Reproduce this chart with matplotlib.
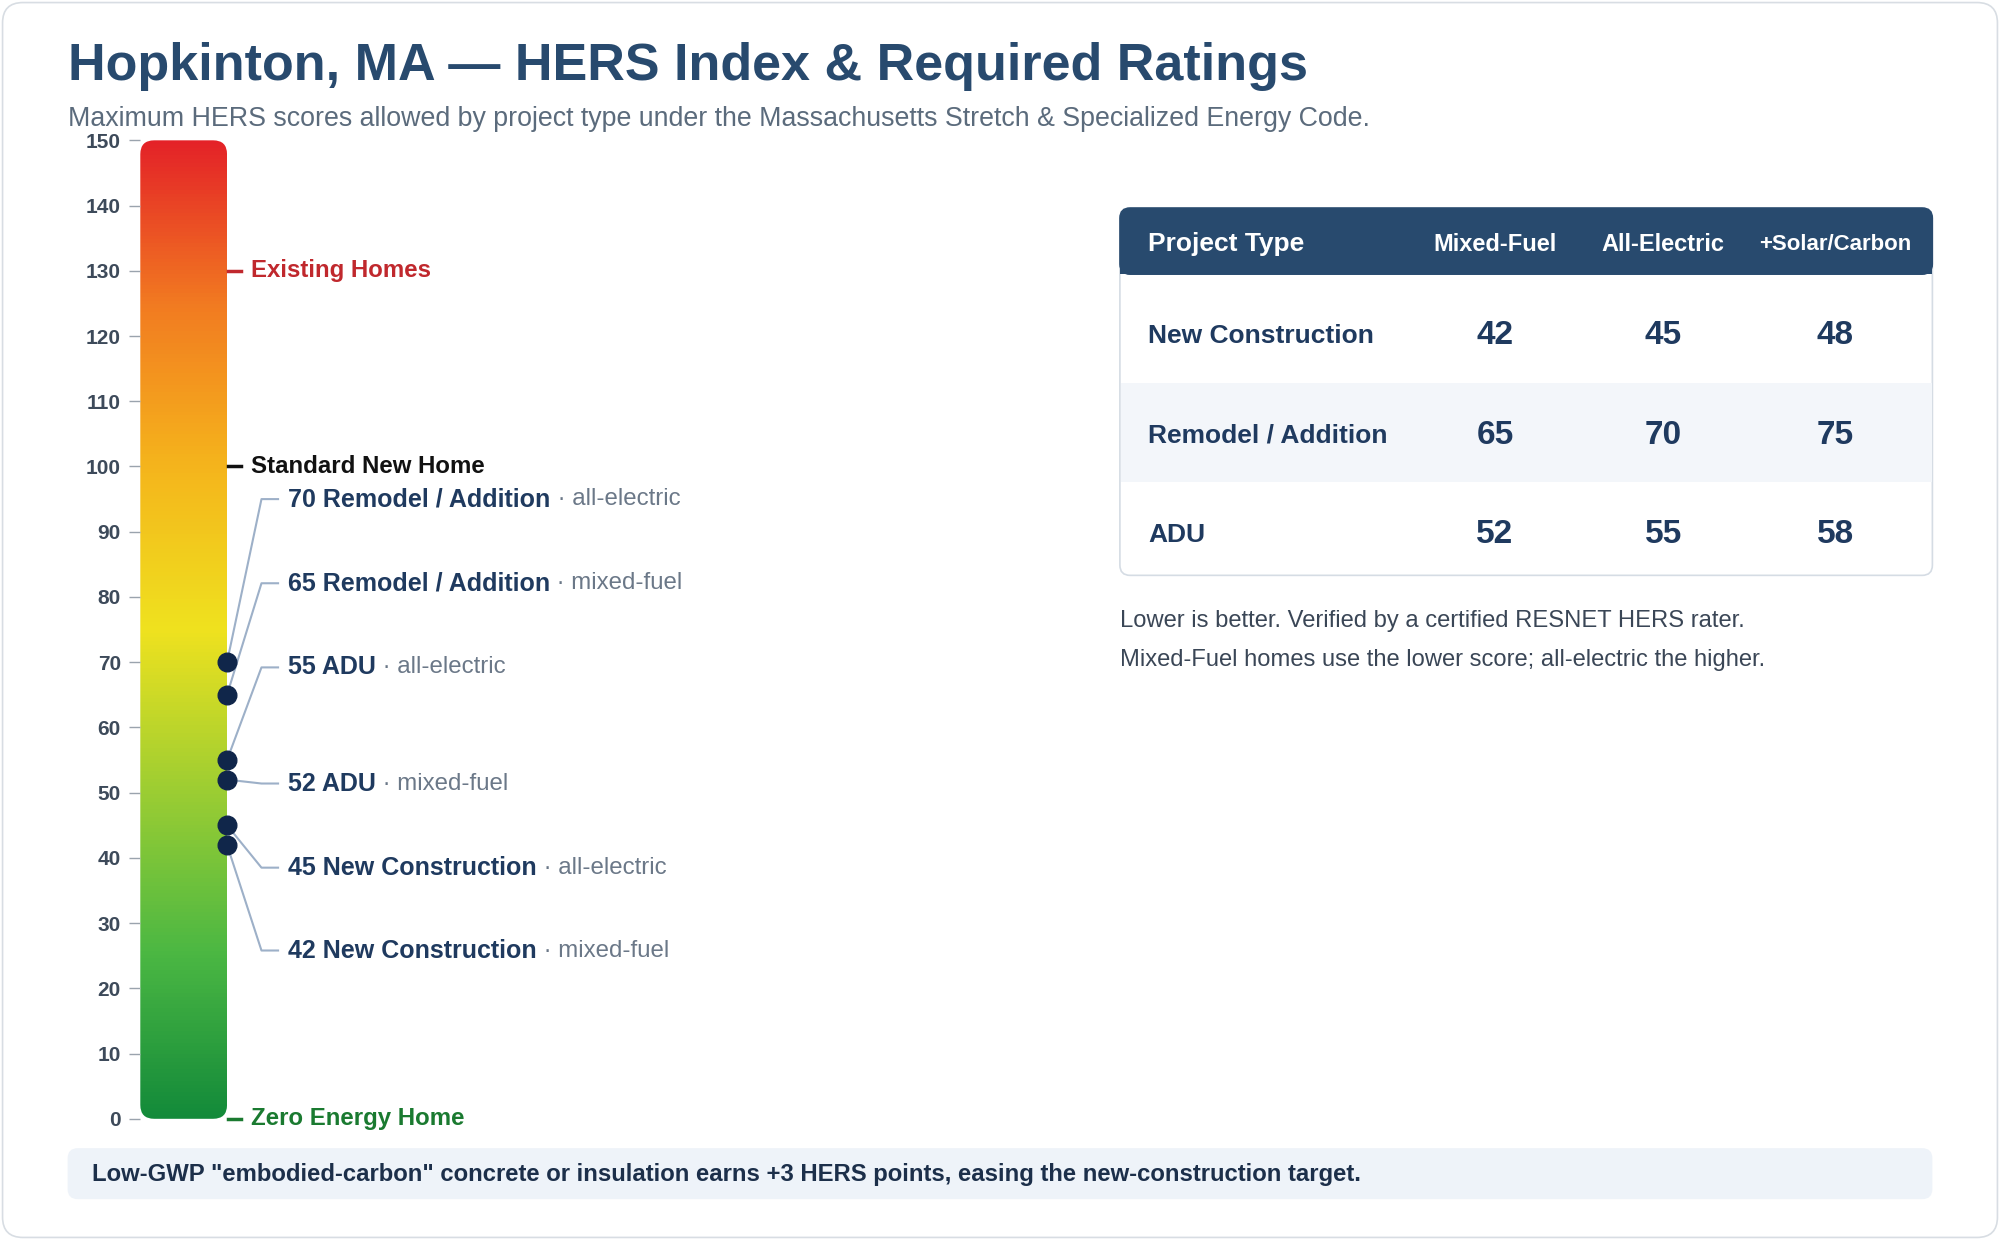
import numpy as np
import matplotlib
matplotlib.use("Agg")
import matplotlib.pyplot as plt
from matplotlib.patches import FancyBboxPatch, Rectangle
from matplotlib.colors import LinearSegmentedColormap

plt.rcParams['font.family'] = ['Liberation Sans', 'DejaVu Sans']

# ---- data ----
title = "Hopkinton, MA \u2014 HERS Index & Required Ratings"
subtitle = "Maximum HERS scores allowed by project type under the Massachusetts Stretch & Specialized Energy Code."
ticks = [0, 10, 20, 30, 40, 50, 60, 70, 80, 90, 100, 110, 120, 130, 140, 150]
ref_labels = ["Existing Homes", "Standard New Home", "Zero Energy Home"]
ref_values = [130, 100, 0]
ref_colors = ["#c0282d", "#111111", "#1a7a30"]
point_values = [70, 65, 55, 52, 45, 42]
point_names = ["Remodel / Addition", "Remodel / Addition", "ADU", "ADU", "New Construction", "New Construction"]
point_fuel = ["all-electric", "mixed-fuel", "all-electric", "mixed-fuel", "all-electric", "mixed-fuel"]
label_positions = [95.0, 82.1, 69.2, 51.4, 38.5, 25.8]
table_cols = ["Project Type", "Mixed-Fuel", "All-Electric", "+Solar/Carbon"]
table_rows = ["New Construction", "Remodel / Addition", "ADU"]
mixed_fuel = [42, 65, 52]
all_electric = [45, 70, 55]
solar_carbon = [48, 75, 58]
notes = ["Lower is better. Verified by a certified RESNET HERS rater.",
         "Mixed-Fuel homes use the lower score; all-electric the higher."]
footer = 'Low-GWP "embodied-carbon" concrete or insulation earns +3 HERS points, easing the new-construction target.'

W, H = 1568, 972
fig = plt.figure(figsize=(20, 12.4), dpi=100)
bg = fig.add_axes([0, 0, 1, 1])
bg.set_xlim(0, W); bg.set_ylim(H, 0); bg.axis('off')

bg.add_patch(FancyBboxPatch((2, 2), W - 4, H - 4, boxstyle="round,pad=0,rounding_size=16",
                            fc="white", ec="#d8dde3", lw=1.2))
navy = "#284a6e"
bg.text(53, 52, title, fontsize=37.5, fontweight='bold', color=navy, va='center')
bg.text(53, 93, subtitle, fontsize=19.3, color="#5b6b7c", va='center')

# ---- table ----
tx0, tx1, ty0, ty1 = 878, 1515, 163, 451
bg.add_patch(FancyBboxPatch((tx0, ty0), tx1 - tx0, ty1 - ty0, boxstyle="round,pad=0,rounding_size=8",
                            fc="white", ec="#d5dce4", lw=1.2))
bg.add_patch(FancyBboxPatch((tx0, ty0), tx1 - tx0, 52, boxstyle="round,pad=0,rounding_size=8",
                            fc=navy, ec=navy, lw=1))
bg.add_patch(Rectangle((tx0, ty0 + 30), tx1 - tx0, 22, fc=navy, ec='none'))
bg.add_patch(Rectangle((tx0 + 0.6, 300), tx1 - tx0 - 1.2, 78, fc="#f3f6fa", ec='none'))
colx = [900, 1172, 1304, 1439]
bg.text(colx[0], 191, table_cols[0], fontsize=19, fontweight='bold', color='white', va='center')
for c, x in zip(table_cols[1:], colx[1:]):
    bg.text(x, 192, c, fontsize=17 if c != "+Solar/Carbon" else 16, fontweight='bold',
            color='white', va='center', ha='center')
rowy = [263, 341, 419]
tc = "#1f3a5f"
for r, y, a, b, c in zip(table_rows, rowy, mixed_fuel, all_electric, solar_carbon):
    bg.text(colx[0], y, r, fontsize=19, fontweight='bold', color=tc, va='center')
    for v, x in zip([a, b, c], colx[1:]):
        bg.text(x, y, str(v), fontsize=24, fontweight='bold', color=tc, va='center', ha='center')
for i, n in enumerate(notes):
    bg.text(878, 487 + 30 * i, n, fontsize=17.1, color="#3a4656", va='center')

# footer
bg.add_patch(FancyBboxPatch((53, 900), 1462, 40, boxstyle="round,pad=0,rounding_size=8",
                            fc="#eef3f9", ec='none'))
bg.text(72, 921, footer, fontsize=17.2, fontweight='bold', color="#1c2f4a", va='center')

# ---- gradient bar ----
bx0, bx1, by0, by1 = 110, 178, 110, 877
ax = fig.add_axes([bx0 / W, 1 - by1 / H, (bx1 - bx0) / W, (by1 - by0) / H])
ax.set_xlim(0, 1); ax.set_ylim(0, 150)
cmap = LinearSegmentedColormap.from_list("hers", [
    (0.0, "#138a3a"), (0.17, "#4cb843"), (0.33, "#9acd33"), (0.5, "#efe21f"),
    (0.67, "#f5b41c"), (0.83, "#f27c21"), (1.0, "#e42228")])
grad = np.linspace(0, 1, 256).reshape(-1, 1)
im = ax.imshow(grad, cmap=cmap, aspect='auto', origin='lower', extent=[0, 1, 0, 150])
clip = FancyBboxPatch((0, 0), 1, 1, boxstyle="round,pad=0,rounding_size=0.16",
                      mutation_aspect=(bx1 - bx0) / (by1 - by0), transform=ax.transAxes,
                      fc='none', ec='none')
ax.add_patch(clip)
im.set_clip_path(clip)
for s in ax.spines.values():
    s.set_visible(False)
ax.set_xticks([])
ax.set_yticks(ticks)
ax.tick_params(axis='y', length=8, width=1, color="#9aa3ad", labelcolor="#3d4a5a",
               labelsize=15, pad=6)
for t in ax.get_yticklabels():
    t.set_fontweight('bold')

tr = ax.get_yaxis_transform()
px = lambda p: (p - bx0) / (bx1 - bx0)
for lab, v, col in zip(ref_labels, ref_values, ref_colors):
    ax.plot([px(179), px(189)], [v, v], color=col, lw=2.5, transform=tr, clip_on=False)
    ax.text(px(197), v, lab, fontsize=17.3, fontweight='bold', color=col, va='center',
            transform=tr, clip_on=False)

for v, ly, nm, fu in zip(point_values, label_positions, point_names, point_fuel):
    ax.plot([px(178), px(205), px(218)], [v, ly, ly], color="#9db0c8", lw=1.5,
            transform=tr, clip_on=False, zorder=3)
    ax.scatter([px(178)], [v], s=180, color="#10264a", transform=tr, clip_on=False, zorder=5)
    t1 = ax.text(px(226), ly, f"{v} {nm}", fontsize=18, fontweight='bold', color="#1f3a5f",
                 va='center', transform=tr, clip_on=False)
    ax.annotate(f" \u00b7 {fu}", xycoords=t1, xy=(1, 0.5), va='center', fontsize=17.3,
                color="#6b7888", annotation_clip=False)

fig.savefig("out.png", dpi=100)
